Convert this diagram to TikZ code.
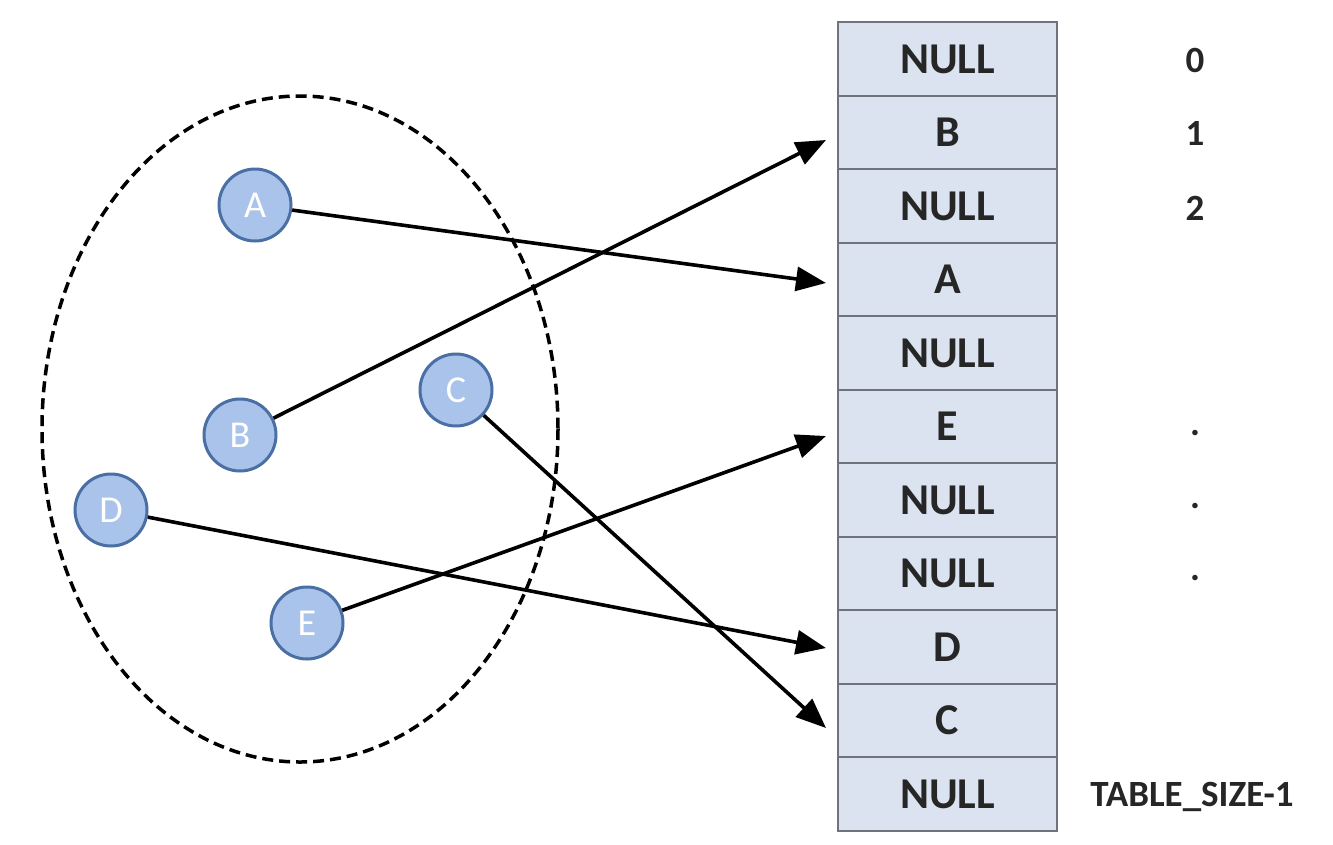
\documentclass[tikz,border=0pt]{standalone}
\usepackage{fontspec}
\setmainfont{Carlito}
\usetikzlibrary{arrows.meta}
\definecolor{circfill}{HTML}{A9C3EA}
\definecolor{circdraw}{HTML}{4A6FA5}
\definecolor{cellfill}{HTML}{DCE3F0}
\definecolor{celldraw}{HTML}{6E737C}
\tikzset{
  elem/.style={circle, minimum size=72pt, inner sep=0pt, fill=circfill, draw=circdraw, line width=3pt,
    text=white, font=\fontsize{38}{38}\selectfont},
  cell/.style={rectangle, minimum width=219pt, minimum height=73.5pt, inner sep=0pt, fill=cellfill,
    draw=celldraw, line width=2pt, font=\fontsize{44}{44}\selectfont\bfseries, text=black!85},
  idx/.style={font=\fontsize{37}{37}\selectfont\bfseries, text=black!85},
  link/.style={line width=3.6pt, -{Triangle[length=30pt,width=24pt]}},
}
\begin{document}
\begin{tikzpicture}[x=1pt,y=-1pt]
\useasboundingbox (0,0) rectangle (1333,844);
\fill[white] (0,0) rectangle (1333,844);
% set ellipse
\draw[line width=3.5pt, dash pattern=on 11pt off 6pt] (300,429) ellipse [x radius=258, y radius=333];
% table
\foreach \t [count=\i from 0] in {NULL,B,NULL,A,NULL,E,NULL,NULL,D,C,NULL} {
  \node[cell] (r\i) at (947.5, 59+73.5*\i) {\t};
}
% indices
\node[idx] (i0) at (1195,60) {0};
\node[idx] (i1) at (1195,133) {1};
\node[idx] (i2) at (1195,208) {2};
\node[idx] (d1) at (1195,433) {.};
\node[idx] (d2) at (1195,506) {.};
\node[idx] (d3) at (1195,578) {.};
\node[idx] (last) at (1192,797) {TABLE\_SIZE-1};
% elements
\node[elem] (A) at (255,205) {A};
\node[elem] (B) at (240,435) {B};
\node[elem] (C) at (456,390) {C};
\node[elem] (D) at (111,510) {D};
\node[elem] (E) at (307,623) {E};
% arrow targets
\coordinate (tB) at (826,140);
\coordinate (tA) at (826,283);
\coordinate (tE) at (826,436);
\coordinate (tD) at (826,648);
\coordinate (tC) at (826,728);
\draw[link] (A) -- (tA);
\draw[link] (B) -- (tB);
\draw[link] (C) -- (tC);
\draw[link] (D) -- (tD);
\draw[link] (E) -- (tE);
\end{tikzpicture}
\end{document}
